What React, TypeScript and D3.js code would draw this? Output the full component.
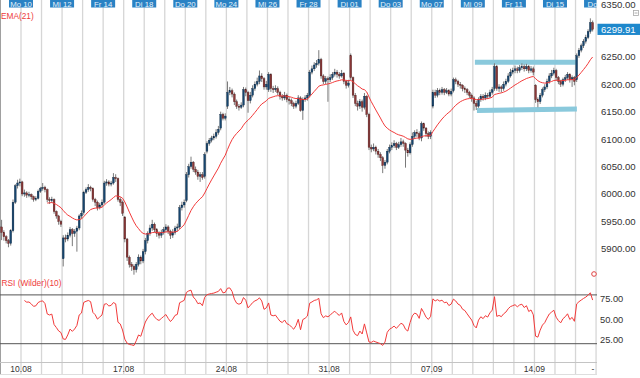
import React from 'react';
import * as d3 from 'd3';

// ---------- data (hourly candles, 9 per trading day) ----------
const dayNames = ["Fr 07","Mo 10","Di 11","Mi 12","Do 13","Fr 14","Mo 17","Di 18","Mi 19","Do 20","Fr 21","Mo 24","Di 25","Mi 26","Do 27","Fr 28","Mo 31","Di 01","Mi 02","Do 03","Fr 04","Mo 07","Di 08","Mi 09","Do 10","Fr 11","Mo 14","Di 15","Mi 16","Do"];
const topLabelDays = [1,3,5,7,9,11,13,15,17,19,21,23,25,27,29];
const weekLabels = ["10.08","17.08","24.08","31.08","07.09","14.09","-"];
const weekLabelDays = [1,6,11,16,21,26,29];
const priceTicks = [6350,6250,6200,6150,6100,6050,6000,5950,5900];
const rsiTicks = [75,50,25];
const rsiLevels = [80,20];

const opens = [
5940,5930,5922,5915,5910,5933,5985,6015,6020,
6022,6000,6002,5998,5999,5995,5990,5992,6005,
6010,6012,6008,5990,5988,5990,5968,5960,5950,
5882,5920,5918,5925,5935,5928,5932,5938,5960,
5966,6003,6008,6012,6010,5990,5985,5975,5980,
5985,6020,6022,6018,6020,6030,6028,5990,5985,
5958,5918,5885,5872,5868,5862,5872,5885,5878,
5895,5915,5928,5938,5945,5935,5928,5925,5930,
5935,5940,5932,5925,5930,5938,5940,5975,5980,
5988,6035,6050,6058,6045,6040,6032,6035,6032,
6078,6092,6098,6102,6105,6112,6120,6145,6138,
6160,6185,6188,6182,6168,6160,6158,6162,6190,
6185,6170,6180,6192,6200,6205,6215,6210,6195,
6190,6218,6192,6190,6192,6185,6178,6175,6180,
6172,6170,6165,6160,6165,6175,6152,6172,6175,
6180,6222,6228,6235,6238,6245,6215,6205,6210,
6208,6212,6218,6222,6218,6215,6220,6205,6198,
6252,6212,6180,6165,6160,6168,6158,6178,6145,
6085,6082,6085,6078,6072,6066,6052,6058,6078,
6085,6088,6092,6085,6090,6095,6092,6080,6075,
6090,6105,6112,6110,6102,6128,6120,6110,6105,
6160,6185,6180,6188,6185,6190,6185,6188,6182,
6188,6208,6205,6200,6198,6192,6190,6185,6180,
6175,6165,6160,6172,6178,6175,6180,6178,6185,
6192,6232,6192,6195,6192,6200,6205,6215,6222,
6225,6228,6225,6230,6232,6228,6232,6225,6228,
6198,6172,6168,6180,6190,6195,6205,6215,6220,
6225,6212,6205,6200,6208,6212,6218,6208,6212,
6208,6252,6262,6270,6278,6285,6296,6312
];
const closes = [
5930,5922,5915,5910,5933,5985,6015,6020,6022,
6000,6002,5998,5999,5995,5990,5992,6005,6010,
6012,6008,5990,5988,5990,5968,5960,5950,5945,
5920,5918,5925,5935,5928,5932,5938,5960,5965,
6003,6008,6012,6010,5990,5985,5975,5980,5985,
6020,6022,6018,6020,6030,6028,5990,5985,5965,
5918,5885,5872,5868,5862,5872,5885,5878,5895,
5915,5928,5938,5945,5935,5928,5925,5930,5935,
5940,5932,5925,5930,5938,5940,5975,5980,5985,
6035,6050,6058,6045,6040,6032,6035,6030,6072,
6092,6098,6102,6105,6112,6118,6145,6138,6142,
6185,6188,6182,6168,6160,6158,6162,6190,6185,
6170,6180,6192,6200,6205,6215,6210,6195,6200,
6218,6192,6190,6192,6185,6178,6175,6180,6172,
6170,6165,6160,6165,6175,6152,6172,6175,6180,
6222,6228,6235,6238,6245,6215,6205,6210,6208,
6212,6218,6222,6218,6215,6220,6205,6198,6202,
6212,6180,6165,6160,6168,6158,6178,6145,6085,
6082,6085,6078,6072,6066,6052,6058,6078,6085,
6088,6092,6085,6090,6095,6092,6080,6075,6090,
6105,6112,6110,6102,6128,6120,6110,6105,6112,
6185,6180,6188,6185,6190,6185,6188,6182,6187,
6208,6205,6200,6198,6192,6190,6185,6180,6175,
6165,6160,6172,6178,6175,6180,6178,6185,6190,
6232,6192,6195,6192,6200,6205,6215,6222,6225,
6228,6225,6230,6232,6228,6232,6225,6228,6222,
6172,6168,6180,6190,6195,6205,6215,6220,6225,
6212,6205,6200,6208,6212,6218,6208,6212,6205,
6252,6262,6270,6278,6285,6296,6312,6299.91
];
const highs = [
5953,5934,5925,5918,5936,5990,6018,6026,6028,
6024,6008,6005,6004,6001,5997,5996,6008,6013,
6020,6015,6010,5994,5995,5992,5970,5962,5953,
5925,5926,5930,5940,5938,5936,5942,5963,5970,
6006,6012,6018,6015,6012,5993,5988,5984,5990,
6024,6027,6025,6024,6038,6036,6030,5994,5988,
5960,5920,5888,5876,5872,5876,5890,5888,5900,
5920,5932,5944,5953,5948,5938,5932,5935,5940,
5945,5943,5935,5936,5942,5946,5980,5986,5990,
6040,6055,6068,6060,6050,6044,6040,6040,6076,
6096,6102,6106,6110,6118,6124,6150,6148,6147,
6205,6195,6192,6185,6172,6164,6167,6195,6194,
6188,6186,6198,6205,6212,6225,6220,6213,6206,
6222,6220,6197,6198,6196,6188,6182,6186,6183,
6177,6174,6168,6170,6180,6178,6176,6180,6184,
6226,6234,6240,6244,6262,6248,6218,6215,6214,
6218,6222,6228,6226,6222,6226,6222,6208,6208,
6256,6214,6184,6170,6173,6172,6184,6180,6148,
6090,6092,6088,6082,6076,6069,6062,6082,6090,
6094,6098,6095,6095,6102,6099,6094,6084,6094,
6112,6116,6118,6114,6132,6130,6122,6114,6116,
6190,6190,6193,6192,6195,6193,6193,6191,6192,
6212,6212,6208,6204,6200,6196,6193,6188,6183,
6178,6170,6176,6182,6182,6185,6184,6190,6195,
6238,6235,6200,6198,6205,6210,6220,6228,6230,
6234,6232,6235,6238,6236,6237,6235,6233,6232,
6200,6176,6184,6194,6200,6210,6220,6226,6230,
6228,6215,6208,6212,6217,6222,6220,6216,6215,
6256,6266,6274,6282,6290,6300,6320,6316
];
const lows = [
5916,5915,5910,5903,5906,5930,5982,6010,6014,
5996,5995,5993,5994,5990,5986,5987,5990,6002,
6006,6003,5985,5982,5984,5964,5955,5944,5940,
5868,5912,5914,5921,5905,5922,5895,5934,5955,
5962,6000,6004,6005,5986,5978,5970,5972,5976,
5982,6015,6014,6014,6017,6022,5986,5978,5960,
5912,5878,5866,5860,5853,5857,5868,5872,5874,
5890,5910,5924,5933,5930,5922,5919,5920,5926,
5930,5927,5918,5920,5926,5932,5936,5970,5975,
5985,6030,6046,6040,6035,6026,6022,6026,6028,
6074,6088,6094,6098,6101,6108,6116,6134,6134,
6155,6180,6176,6162,6155,6152,6155,6158,6178,
6148,6165,6176,6188,6196,6200,6204,6190,6190,
6186,6186,6184,6186,6180,6172,6170,6171,6167,
6163,6160,6155,6156,6162,6150,6135,6168,6170,
6176,6218,6224,6230,6234,6210,6200,6200,6168,
6204,6208,6214,6212,6210,6212,6200,6192,6194,
6208,6175,6160,6152,6155,6150,6154,6140,6080,
6076,6078,6072,6066,6060,6038,6046,6054,6074,
6080,6084,6080,6082,6086,6086,6048,6068,6072,
6086,6100,6104,6098,6096,6115,6104,6100,6100,
6156,6175,6176,6180,6181,6180,6182,6178,6178,
6185,6200,6195,6192,6187,6184,6180,6175,6168,
6152,6153,6157,6168,6170,6171,6173,6175,6181,
6188,6188,6186,6185,6188,6196,6202,6212,6218,
6220,6220,6221,6226,6223,6224,6220,6221,6216,
6166,6158,6164,6176,6186,6191,6201,6211,6216,
6206,6200,6195,6196,6204,6208,6203,6195,6198,
6204,6248,6258,6266,6274,6282,6292,6296
];

// drawn channel annotations (candle index and price at each end)
const bandStartIdx = [207.4, 208.3];
const bandEndIdx = [252.1, 252.1];
const bandStartPrice = [6240, 6152];
const bandEndPrice = [6240, 6155];

const PER_DAY = 9;
const EMA_N = 21;
const RSI_N = 10;

// ---------- indicators ----------
function emaSeries(v: number[], n: number): (number | null)[] {
  const k = 2 / (n + 1);
  const out: (number | null)[] = [];
  let prev = 0;
  for (let i = 0; i < v.length; i++) {
    if (i < n - 1) out.push(null);
    else if (i === n - 1) { prev = d3.mean(v.slice(0, n)) as number; out.push(prev); }
    else { prev = v[i] * k + prev * (1 - k); out.push(prev); }
  }
  return out;
}
function rsiSeries(v: number[], n: number): (number | null)[] {
  const out: (number | null)[] = [null];
  let ag = 0, al = 0;
  for (let i = 1; i < v.length; i++) {
    const ch = v[i] - v[i - 1];
    const g = Math.max(ch, 0), l = Math.max(-ch, 0);
    if (i < n) { ag += g; al += l; out.push(null); }
    else if (i === n) { ag = (ag + g) / n; al = (al + l) / n; out.push(al === 0 ? 100 : 100 - 100 / (1 + ag / al)); }
    else { ag = (ag * (n - 1) + g) / n; al = (al * (n - 1) + l) / n; out.push(al === 0 ? 100 : 100 - 100 / (1 + ag / al)); }
  }
  return out;
}

const FONT = "'Liberation Sans', Arial, sans-serif";

export default function App() {
  const N = closes.length;
  const x = d3.scaleLinear().domain([0, 260.5]).range([1.6, 1.6 + 260.5 * 2.282]);
  const yP = d3.scaleLinear().domain([6000, 6350]).range([194, 194 - 350 * 0.549]);
  const yR = d3.scaleLinear().domain([20, 80]).range([343.7, 294.9]);
  const plotRight = 596.5;

  const ema = emaSeries(closes, EMA_N);
  const rsi = rsiSeries(closes, RSI_N);
  const emaLine = d3.line<number | null>()
    .defined(d => d != null)
    .x((_, i) => x(i))
    .y(d => yP(d as number));
  const rsiLine = d3.line<number | null>()
    .defined(d => d != null)
    .x((_, i) => x(i))
    .y(d => yR(d as number));

  const dayX = (k: number) => x(k * PER_DAY - 0.5);
  const days = d3.range(1, dayNames.length);
  const last = closes[N - 1];

  return (
    <svg width={640} height={378} style={{ position: 'fixed', left: 0, top: 0, background: '#fff' }}
      fontFamily={FONT}>
      <defs>
        <clipPath id="plot"><rect x={0} y={0} width={plotRight} height={378} /></clipPath>
      </defs>
      <rect x={0} y={0} width={640} height={378} fill="#fff" />
      {/* vertical day grid */}
      {days.map(k => (
        <line key={'g' + k} x1={dayX(k)} x2={dayX(k)} y1={0} y2={374} stroke="#d6d6d6" strokeWidth={1.3} />
      ))}
      <line x1={0.5} x2={0.5} y1={0} y2={374} stroke="#a0a0a0" strokeWidth={1} />
      {/* RSI panel frame lines */}
      <line x1={0} x2={597} y1={362.5} y2={362.5} stroke="#c4c4c4" strokeWidth={1} />
      <line x1={0} x2={597} y1={374.5} y2={374.5} stroke="#dedede" strokeWidth={1} />
      {rsiLevels.map(l => (
        <line key={'lv' + l} x1={0} x2={597} y1={yR(l)} y2={yR(l)} stroke="#555" strokeWidth={1} />
      ))}

      <g clipPath="url(#plot)">
        {/* channel bands */}
        {bandStartIdx.map((s, j) => (
          <line key={'band' + j} x1={x(s)} x2={x(bandEndIdx[j])} y1={yP(bandStartPrice[j])} y2={yP(bandEndPrice[j])}
            stroke="#8ac9dc" strokeWidth={5} />
        ))}
        {/* candles */}
        {closes.map((c, i) => {
          const o = opens[i];
          const hi = Math.max(highs[i], o, c), lo = Math.min(lows[i], o, c);
          const up = c >= o;
          const top = yP(Math.max(o, c)), bot = yP(Math.min(o, c));
          const cx = x(i);
          return (
            <g key={'c' + i}>
              <line x1={cx} x2={cx} y1={yP(hi)} y2={yP(lo)} stroke="#7a7a7a" strokeWidth={1} />
              <rect x={cx - 0.9} y={top} width={1.8} height={Math.max(bot - top, 0.8)}
                fill={up ? '#17466f' : '#8a3838'} stroke={up ? '#0d2740' : '#4a1c1c'} strokeWidth={0.35} />
            </g>
          );
        })}
        <path d={emaLine(ema) || ''} fill="none" stroke="#f23a3a" strokeWidth={1} />
        <path d={rsiLine(rsi) || ''} fill="none" stroke="#f23a3a" strokeWidth={1} />
        {/* top day boxes */}
        {topLabelDays.map(k => (
          <rect key={'tb' + k} x={dayX(k) - 12} y={-3} width={24} height={10.5} fill="#2a82c4" />
        ))}
      </g>
      {/* top day labels (last one only partially visible, as "Do") */}
      {topLabelDays.map(k => (
        k === 29
          ? <text key={'tl' + k} x={587.5} y={6.8} fontSize={7.8} fill="#e8f2fa">{dayNames[k]}</text>
          : <text key={'tl' + k} x={dayX(k)} y={6.8} textAnchor="middle" fontSize={7.8} fill="#e8f2fa">{dayNames[k]}</text>
      ))}

      {/* indicator titles */}
      <text x={1} y={19} fontSize={8.3} fill="#ee3b3b">EMA({EMA_N})</text>
      <text x={1.5} y={286} fontSize={8.3} fill="#ee3b3b">RSI (Wilder)({RSI_N})</text>

      {/* price axis */}
      {priceTicks.map(p => (
        <text key={'p' + p} x={601} y={Math.max(yP(p), 5) + 3.4} fontSize={9.6} fill="#333">{p.toFixed(2)}</text>
      ))}
      <rect x={597.5} y={yP(last) - 5.6} width={43} height={11.2} fill="#1e88cc" />
      <text x={601} y={yP(last) + 3.4} fontSize={9.6} fill="#fff">{last.toFixed(2)}</text>
      <rect x={633.5} y={10.5} width={5} height={5} fill="#fff" stroke="#aaa" strokeWidth={0.8} />
      <line x1={634.5} x2={637.5} y1={13} y2={13} stroke="#999" strokeWidth={0.8} />

      {/* RSI axis */}
      {rsiTicks.map(t => (
        <text key={'r' + t} x={600} y={yR(t) + 3.3} fontSize={9.3} fill="#333">{t.toFixed(2)}</text>
      ))}
      <circle cx={594} cy={274} r={2.3} fill="#fff" stroke="#e04040" strokeWidth={1} />

      {/* date labels */}
      {weekLabelDays.map((k, j) => (
        <text key={'w' + j} x={k === 29 ? 593 : dayX(k)} y={372} textAnchor="middle" fontSize={8.5} fill="#333">{weekLabels[j]}</text>
      ))}
    </svg>
  );
}
